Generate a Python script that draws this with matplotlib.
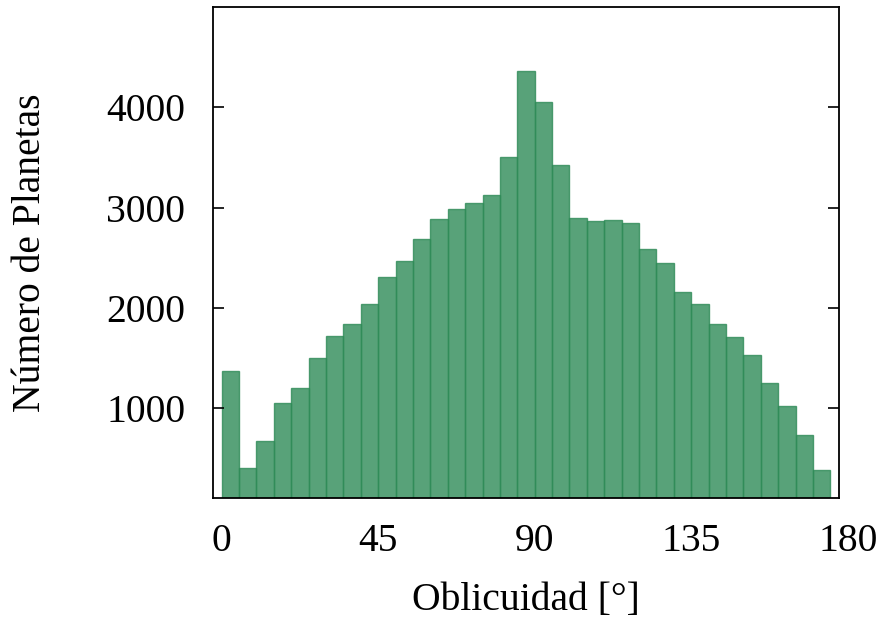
import matplotlib
import matplotlib.pyplot as plt
import matplotlib.transforms as mtransforms

matplotlib.use("Agg")

# Histogram of planetary obliquity, 5-degree bins from 0 to 175
bin_edges = list(range(0, 175, 5))
bin_width = 5
counts = [1375, 405, 671, 1050, 1205, 1505, 1718, 1840, 2037, 2309,
          2465, 2685, 2884, 2984, 3044, 3124, 3505, 4360, 4057, 3423,
          2900, 2864, 2877, 2844, 2588, 2449, 2156, 2037, 1837, 1714,
          1535, 1249, 1023, 731, 388]
xticks = [0, 45, 90, 135, 180]
yticks = [1000, 2000, 3000, 4000]

plt.rcParams["font.family"] = ["Liberation Serif", "DejaVu Serif"]
fs = 28.5

fig = plt.figure(figsize=(8.77, 6.2), dpi=100)
ax = fig.add_axes([0.2429, 0.1973, 0.7138, 0.7914])

ax.bar(bin_edges, counts, width=bin_width, align="edge",
       color="seagreen", alpha=0.8, edgecolor="seagreen", linewidth=1.0)

ax.set_xlim(-2.5, 177.5)
ax.set_ylim(110, 5000)

for side in ax.spines.values():
    side.set_linewidth(1.3)
    side.set_color("black")

ax.set_yticks(yticks)
ax.tick_params(axis="y", direction="in", length=8, width=1.2,
               right=True, pad=20, labelsize=fs)

tick_pad = 18
ax.set_xticks(xticks[:-1])
ax.tick_params(axis="x", length=0, pad=tick_pad, labelsize=fs)

# the last label sits beyond the right edge of the data range
blend = mtransforms.blended_transform_factory(ax.transData, ax.transAxes)
ax.annotate(str(xticks[-1]), xy=(xticks[-1], 0), xycoords=blend,
            xytext=(0, -tick_pad), textcoords="offset points",
            ha="center", va="top", fontsize=fs, annotation_clip=False)

ax.set_xlabel("Oblicuidad [°]", fontsize=fs, labelpad=16)
ax.set_ylabel("Número de Planetas", fontsize=fs, labelpad=41)

fig.savefig("out.png", dpi=100)
plt.close(fig)
